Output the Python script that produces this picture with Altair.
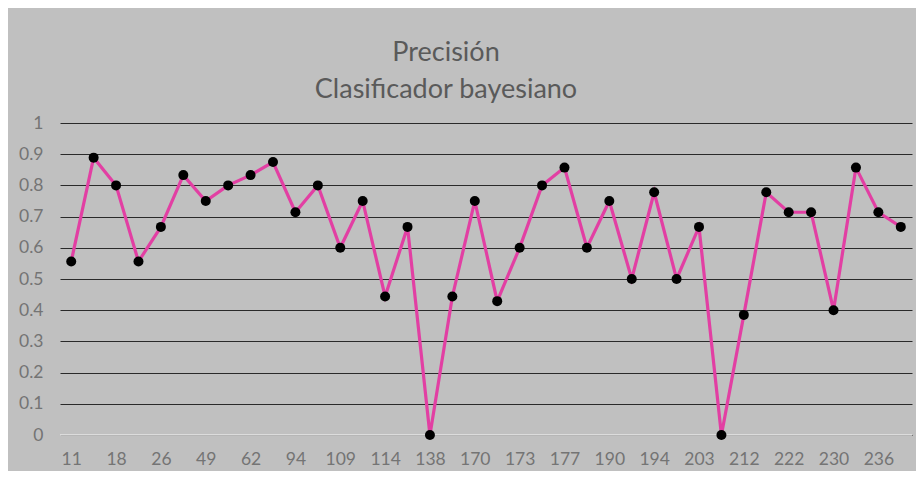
import altair as alt
import pandas as pd

# Visible x tick labels (every other category is labelled)
tick_labels = ["11", "18", "26", "49", "62", "94", "109", "114", "138", "170",
               "173", "177", "190", "194", "203", "212", "222", "230", "236"]

# Precision per case (38 points)
values = [0.556, 0.889, 0.8, 0.556, 0.667, 0.833, 0.75, 0.8, 0.833, 0.875,
          0.714, 0.8, 0.6, 0.75, 0.444, 0.667, 0.0, 0.444, 0.75, 0.429,
          0.6, 0.8, 0.857, 0.6, 0.75, 0.5, 0.778, 0.5, 0.667, 0.0,
          0.385, 0.778, 0.714, 0.714, 0.4, 0.857, 0.714, 0.667]

y_ticks = [0, 0.1, 0.2, 0.3, 0.4, 0.5, 0.6, 0.7, 0.8, 0.9, 1]

df = pd.DataFrame({"idx": list(range(len(values))), "value": values})

label_array = "[" + ",".join("'" + t + "'" for t in tick_labels) + "]"

FONT = "Lato"
LABEL_COLOR = "#747474"

x_enc = alt.X(
    "idx:O",
    scale=alt.Scale(type="point", padding=0.5),
    axis=alt.Axis(
        title=None,
        values=list(range(0, len(values), 2)),
        labelExpr=label_array + "[floor(datum.value / 2)]",
        labelAngle=0,
        labelFont=FONT,
        labelFontSize=17.5,
        labelColor=LABEL_COLOR,
        labelPadding=15,
        labelOverlap=False,
        ticks=False,
        domain=False,
        grid=False,
    ),
)

y_enc = alt.Y(
    "value:Q",
    scale=alt.Scale(domain=[0, 1], nice=False, zero=True),
    axis=alt.Axis(
        title=None,
        values=y_ticks,
        format=".1~f",
        labelFont=FONT,
        labelFontSize=17.5,
        labelColor=LABEL_COLOR,
        labelPadding=17,
        labelOverlap=False,
        ticks=False,
        domain=False,
        grid=True,
        gridColor="#2a2a2a",
        gridWidth=1.2,
    ),
)

base = alt.Chart(df)

line = base.mark_line(color="#e23fa3", strokeWidth=3.2).encode(x=x_enc, y=y_enc)
pts = base.mark_circle(color="#000000", size=100, opacity=1).encode(x=x_enc, y=y_enc)
zero = (
    alt.Chart(pd.DataFrame({"value": [0.0]}))
    .mark_rule(color="#e6e6e6", strokeWidth=1.5)
    .encode(y=y_enc)
)

chart = (
    alt.layer(zero, line, pts)
    .properties(
        width=852,
        height=312,
        autosize=alt.AutoSizeParams(type="none"),
        padding={"left": 52, "top": 115, "right": 4, "bottom": 36},
        background="#c0c0c0",
        title=alt.TitleParams(
            text=["Precisión", "Clasificador bayesiano"],
            font=FONT,
            fontSize=27,
            fontWeight="normal",
            color="#5a5a5a",
            lineHeight=37,
            anchor="middle",
            frame="group",
            dx=-40,
            offset=10,
        ),
    )
    .configure_view(stroke=None)
)

chart.save("out.html", embed_options={"renderer": "svg", "actions": False})
